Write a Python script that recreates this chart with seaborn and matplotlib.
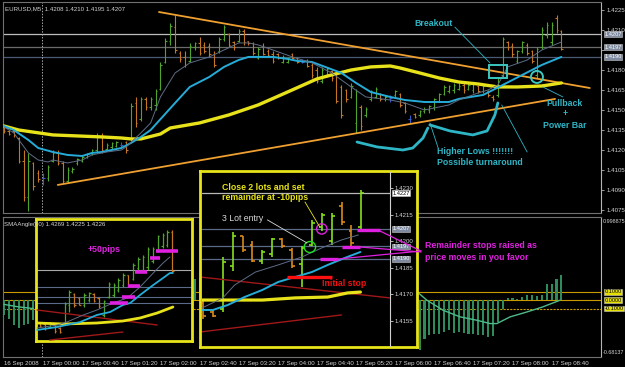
import numpy as np
import matplotlib
matplotlib.use("Agg")
import matplotlib.pyplot as plt
import matplotlib.transforms as mtransforms
from matplotlib.patches import Rectangle, Ellipse
from matplotlib.lines import Line2D
import seaborn as sns

# ---------------- main chart data (EURUSD M5) ----------------
bar_index = list(range(115))
bar_open = [1.4136,1.4134,1.4134,1.4129,1.4112,1.4085,1.4110,1.4103,1.4099,1.4099,
            1.4112,1.4118,1.4110,1.4097,1.4104,1.4110,1.4112,1.4115,1.4117,1.4120,
            1.4130,1.4121,1.4122,1.4123,1.4124,1.4126,1.4128,1.4155,1.4143,1.4158,
            1.4152,1.4154,1.4166,1.4186,1.4202,1.4212,1.4193,1.4190,1.4187,1.4197,
            1.4200,1.4199,1.4198,1.4192,1.4194,1.4203,1.4207,1.4201,1.4202,1.4209,
            1.4202,1.4200,1.4189,1.4198,1.4194,1.4192,1.4192,1.4186,1.4186,1.4192,
            1.4189,1.4186,1.4187,1.4184,1.4180,1.4172,1.4176,1.4179,1.4176,1.4167,
            1.4165,1.4160,1.4140,1.4152,1.4146,1.4158,1.4160,1.4162,1.4158,1.4159,
            1.4161,1.4162,1.4155,1.4143,1.4147,1.4146,1.4149,1.4150,1.4152,1.4157,
            1.4162,1.4164,1.4165,1.4166,1.4169,1.4166,1.4165,1.4168,1.4164,1.4164,
            1.4160,1.4161,1.4176,1.4201,1.4198,1.4187,1.4194,1.4199,1.4194,1.4176,
            1.4197,1.4206,1.4201,1.4219,1.4209]
bar_high = [1.4137,1.4135,1.4135,1.4130,1.4120,1.4118,1.4111,1.4105,1.4103,1.4109,
            1.4120,1.4120,1.4112,1.4107,1.4107,1.4114,1.4116,1.4118,1.4121,1.4133,
            1.4133,1.4125,1.4126,1.4127,1.4126,1.4127,1.4155,1.4160,1.4160,1.4160,
            1.4160,1.4166,1.4186,1.4204,1.4215,1.4221,1.4194,1.4194,1.4200,1.4201,
            1.4205,1.4201,1.4200,1.4194,1.4205,1.4214,1.4208,1.4202,1.4211,1.4211,
            1.4202,1.4201,1.4197,1.4200,1.4196,1.4194,1.4193,1.4191,1.4190,1.4193,
            1.4190,1.4188,1.4188,1.4185,1.4182,1.4182,1.4182,1.4180,1.4178,1.4169,
            1.4166,1.4170,1.4166,1.4154,1.4152,1.4165,1.4167,1.4163,1.4161,1.4161,
            1.4165,1.4163,1.4156,1.4146,1.4148,1.4150,1.4152,1.4154,1.4159,1.4163,
            1.4169,1.4169,1.4170,1.4170,1.4170,1.4170,1.4171,1.4169,1.4169,1.4165,
            1.4161,1.4175,1.4205,1.4202,1.4200,1.4195,1.4202,1.4200,1.4195,1.4197,
            1.4212,1.4216,1.4216,1.4221,1.4210]
bar_low = [1.4133,1.4131,1.4130,1.4110,1.4082,1.4074,1.4090,1.4096,1.4094,1.4097,
           1.4111,1.4109,1.4095,1.4095,1.4103,1.4109,1.4111,1.4114,1.4116,1.4118,
           1.4118,1.4120,1.4121,1.4122,1.4122,1.4118,1.4127,1.4137,1.4142,1.4150,
           1.4150,1.4150,1.4165,1.4185,1.4199,1.4193,1.4186,1.4182,1.4186,1.4195,
           1.4191,1.4193,1.4190,1.4182,1.4193,1.4202,1.4197,1.4195,1.4201,1.4199,
           1.4199,1.4191,1.4188,1.4191,1.4190,1.4185,1.4188,1.4185,1.4185,1.4188,
           1.4185,1.4185,1.4182,1.4174,1.4170,1.4170,1.4175,1.4172,1.4155,1.4144,
           1.4156,1.4159,1.4133,1.4135,1.4145,1.4157,1.4159,1.4157,1.4157,1.4156,
           1.4160,1.4152,1.4148,1.4140,1.4144,1.4145,1.4148,1.4148,1.4150,1.4156,
           1.4161,1.4163,1.4163,1.4165,1.4163,1.4165,1.4163,1.4163,1.4163,1.4160,
           1.4157,1.4160,1.4175,1.4195,1.4190,1.4185,1.4193,1.4191,1.4185,1.4174,
           1.4196,1.4204,1.4199,1.4208,1.4195]
bar_close = [1.4134,1.4132,1.4131,1.4112,1.4085,1.4112,1.4093,1.4098,1.4099,1.4107,
             1.4118,1.4110,1.4097,1.4105,1.4106,1.4113,1.4115,1.4117,1.4120,1.4130,
             1.4120,1.4124,1.4125,1.4126,1.4124,1.4120,1.4153,1.4140,1.4158,1.4152,
             1.4158,1.4164,1.4184,1.4202,1.4213,1.4195,1.4188,1.4184,1.4198,1.4200,
             1.4193,1.4194,1.4192,1.4184,1.4203,1.4212,1.4199,1.4197,1.4209,1.4201,
             1.4200,1.4193,1.4196,1.4192,1.4191,1.4187,1.4189,1.4190,1.4189,1.4189,
             1.4186,1.4186,1.4183,1.4176,1.4172,1.4180,1.4181,1.4174,1.4157,1.4146,
             1.4158,1.4168,1.4164,1.4138,1.4151,1.4164,1.4166,1.4158,1.4160,1.4159,
             1.4164,1.4154,1.4149,1.4143,1.4145,1.4149,1.4151,1.4153,1.4158,1.4162,
             1.4167,1.4168,1.4169,1.4168,1.4165,1.4169,1.4170,1.4164,1.4168,1.4161,
             1.4158,1.4174,1.4203,1.4197,1.4192,1.4194,1.4201,1.4193,1.4187,1.4196,
             1.4210,1.4214,1.4214,1.4210,1.4196]

ma_fast_x = [0,2,5,7,9,10,13,16,18,21,24,25,28,30,32,35,38,42,45,48,50,52,55,59,63,67,71,74,79,82,
             86,88,91,93,97,99,101,103,107,110,114]
ma_fast_y = [1.41373,1.41328,1.41178,1.41125,1.41110,1.41125,1.41103,1.41125,1.41163,1.41185,
             1.41200,1.41223,1.41328,1.41403,1.41598,1.41778,1.41853,1.41898,1.41950,1.42003,
             1.42003,1.41988,1.41950,1.41898,1.41853,1.41778,1.41673,1.41598,1.41575,1.41553,
             1.41500,1.41515,1.41538,1.41575,1.41628,1.41650,1.41688,1.41823,1.41875,1.41950,1.42010]
ma_mid_x = [0,2,5,7,10,13,16,18,20,22,24,26,28,30,35,38,42,45,48,50,55,58,60,63,69,72,75,79,82,86,
            91,93,98,100,106,110,114]
ma_mid_y = [1.41380,1.41350,1.41275,1.41215,1.41185,1.41163,1.41155,1.41178,1.41185,1.41200,
            1.41215,1.41253,1.41298,1.41350,1.41553,1.41673,1.41748,1.41823,1.41875,1.41898,
            1.41898,1.41883,1.41868,1.41860,1.41778,1.41703,1.41635,1.41598,1.41575,1.41560,
            1.41560,1.41583,1.41613,1.41650,1.41763,1.41838,1.41898]
ma_slow_x = [0,3,10,20,24,26,28,32,34,40,46,52,58,64,67,71,75,79,81,85,89,93,97,101,105,110,114]
ma_slow_y = [1.41380,1.41350,1.41313,1.41298,1.41290,1.41283,1.41283,1.41320,1.41365,1.41403,
             1.41463,1.41538,1.41635,1.41733,1.41763,1.41800,1.41823,1.41830,1.41815,1.41778,
             1.41740,1.41710,1.41695,1.41673,1.41673,1.41680,1.41703]
upper_tl_x = [31.7, 119.8]
upper_tl_y = [1.42235, 1.41665]
lower_tl_x = [11.0, 112.7]
lower_tl_y = [1.40938, 1.41583]
main_levels = [1.4207, 1.4197, 1.4190]
price_ticks = [1.4225, 1.4210, 1.4195, 1.4180, 1.4165, 1.4150, 1.4135, 1.4120, 1.4105, 1.4090, 1.4075]
hidden_tick = 1.4195   # its label sits under the 1.4197 price tag in the reference
time_tick_bars = [0, 8, 16, 24, 32, 40, 48, 56, 64, 72, 80, 88, 96, 104, 112]
time_labels = ["16 Sep 2008", "17 Sep 00:00", "17 Sep 00:40", "17 Sep 01:20", "17 Sep 02:00",
               "17 Sep 02:40", "17 Sep 03:20", "17 Sep 04:00", "17 Sep 04:40", "17 Sep 05:20",
               "17 Sep 06:00", "17 Sep 06:40", "17 Sep 07:20", "17 Sep 08:00", "17 Sep 08:40"]
day_start_bar = 7.8

# higher-lows sketch (bar index, price)
hl1_x = [72.2, 76.3, 81.6, 83.6, 85.7, 86.7]
hl1_y = [1.41260, 1.41223, 1.41200, 1.41215, 1.41290, 1.41365]
hl2_x = [87.1, 91.2, 95.9, 98.8, 100.4, 101.0]
hl2_y = [1.41388, 1.41343, 1.41313, 1.41343, 1.41463, 1.41553]

# ---------------- SMAAngle indicator ----------------
hist_x = [0,1,2,3,4,5,6,39,40,85,86,87,88,89,90,91,92,93,94,95,96,97,98,99,100,101,102,103,104,105,
          106,107,108,109,110,111,112,113,114]
hist_v = [-0.18,-0.22,-0.30,-0.33,-0.30,-0.28,-0.24,0.25,0.27,-0.60,-0.46,-0.42,-0.40,-0.40,-0.38,
          -0.36,-0.39,-0.38,-0.39,-0.41,-0.40,-0.42,-0.42,-0.44,-0.43,-0.26,-0.10,0.03,0.03,0.02,
          0.04,0.06,0.06,0.05,0.06,0.19,0.20,0.26,0.30]
sig_left_x = [0, 3, 6]
sig_left_v = [-0.05, -0.08, -0.10]
sig_x = [84.5, 86.5, 89.8, 93.3, 96.7, 99.4, 100.8, 103.5, 107.0, 110.2, 113.7]
sig_v = [0.10, 0.00, -0.12, -0.20, -0.24, -0.28, -0.28, -0.20, -0.14, -0.08, 0.00]
ind_levels = [0.1, 0.0, -0.1]
ind_level_labels = ["0.1000", "0.0000", "-0.1000"]
ind_max, ind_min = 0.998875, -0.68137

# ---------------- left inset (+50pips) ----------------
left_open = [1.4169,1.4168,1.4164,1.4166,1.4163,1.4168,1.4188,1.4201,1.4196,1.4188,
             1.4194,1.4201,1.4196,1.4177,1.4197,1.4199,1.4205,1.4210,1.4221,1.4217,
             1.4229,1.4227,1.4230,1.4237,1.4249,1.4253,1.4254,1.4269]
left_high = [1.4170,1.4169,1.4170,1.4167,1.4164,1.4192,1.4205,1.4202,1.4197,1.4202,
             1.4203,1.4202,1.4197,1.4194,1.4214,1.4213,1.4218,1.4224,1.4222,1.4235,
             1.4241,1.4243,1.4252,1.4252,1.4266,1.4268,1.4271,1.4271]
left_low = [1.4164,1.4161,1.4163,1.4158,1.4158,1.4167,1.4181,1.4186,1.4188,1.4186,
            1.4192,1.4192,1.4185,1.4175,1.4196,1.4197,1.4203,1.4208,1.4208,1.4216,
            1.4227,1.4225,1.4227,1.4235,1.4247,1.4251,1.4252,1.4225]
left_close = [1.4165,1.4163,1.4169,1.4160,1.4159,1.4190,1.4203,1.4188,1.4189,1.4200,
              1.4202,1.4193,1.4187,1.4193,1.4212,1.4211,1.4216,1.4222,1.4210,1.4233,
              1.4239,1.4241,1.4250,1.4250,1.4264,1.4266,1.4269,1.4226]
left_mid_x = [-0.6,3.5,8.2,11.6,14.3,16.9,18.4,20.4,23.1,25.1,26.5,27.1]
left_mid_y = [1.41610,1.41643,1.41698,1.41775,1.41808,1.41885,1.41907,1.41995,1.42105,1.42182,1.42237,1.42237]
left_fast_x = [-0.6,3.5,5.5,8.8,11.6,14.9,17.8,20.4,23.1,25.1,26.5]
left_fast_y = [1.41632,1.41665,1.41698,1.41775,1.41830,1.41907,1.41962,1.42083,1.42237,1.42347,1.42413]
left_slow_x = [-0.6,4.7,11.6,16.9,20.4,23.9,27.1]
left_slow_y = [1.41687,1.41676,1.41687,1.41709,1.41742,1.41797,1.41863]
left_red1_x, left_red1_y = [-0.6, 23.9], [1.41830, 1.41665]
left_red2_x, left_red2_y = [2.0, 16.9], [1.41500, 1.41588]
left_stop_x0 = [14.3, 16.7, 18.0, 19.4, 22.4, 23.7]
left_stop_x1 = [18.0, 19.4, 20.4, 21.8, 24.5, 28.2]
left_stop_y = [1.41907, 1.41973, 1.42094, 1.42248, 1.42402, 1.42479]
left_levels = [1.4227, 1.4208, 1.4197, 1.4191]

# ---------------- middle inset (entry / exits) ----------------
mid_open = [1.4165,1.4160,1.4162,1.4186,1.4203,1.4198,1.4189,1.4193,1.4201,1.4195,1.4187,1.4198,1.4208,1.4200,1.4220,1.4206,1.4208]
mid_high = [1.4167,1.4161,1.4191,1.4205,1.4203,1.4200,1.4195,1.4202,1.4202,1.4196,1.4197,1.4212,1.4216,1.4216,1.4222,1.4209,1.4229]
mid_low = [1.4156,1.4157,1.4160,1.4183,1.4194,1.4188,1.4187,1.4191,1.4196,1.4185,1.4174,1.4197,1.4206,1.4198,1.4209,1.4197,1.4206]
mid_close = [1.4158,1.4158,1.4188,1.4203,1.4195,1.4189,1.4194,1.4201,1.4197,1.4186,1.4196,1.4210,1.4215,1.4214,1.4211,1.4199,1.4227]
mid_fast_x = [-0.1,2.0,3.2,5.3,7.6,10.0,12.0,14.0,15.7]
mid_fast_y = [1.41623,1.41680,1.41753,1.41826,1.41866,1.41911,1.41962,1.42007,1.42035]
mid_mid_x = [-0.1,1.0,2.5,4.2,6.0,7.6,9.3,11.0,12.6,14.3,15.9]
mid_mid_y = [1.41612,1.41612,1.41640,1.41685,1.41725,1.41770,1.41798,1.41826,1.41866,1.41905,1.41939]
mid_slow_x = [-0.3,2.5,6.0,9.3,12.6,14.6,15.9]
mid_slow_y = [1.41668,1.41668,1.41668,1.41680,1.41685,1.41708,1.41713]
mid_red1_x, mid_red1_y = [-0.3, 18.9], [1.41798, 1.41680]
mid_red2_x, mid_red2_y = [-0.3, 14.0], [1.41488, 1.41584]
mid_ticks = [1.4230, 1.4215, 1.4200, 1.4185, 1.4170, 1.4155]
mid_levels = [1.4227, 1.4207, 1.4197, 1.4190]
initial_stop_x, initial_stop_y = [8.5, 13.0], 1.41798
mid_stop_x0 = [11.8, 14.0, 15.6]
mid_stop_x1 = [13.6, 15.9, 17.9]
mid_stop_y = [1.41900, 1.41967, 1.42063]
entry_bar, entry_price = 10.8, 1.41967
close2_bar, close2_price = 12.0, 1.42069

# ---------------- style ----------------
sns.set_style("dark")
plt.rcParams['font.family'] = ['Liberation Sans', 'DejaVu Sans']
W, H = 625, 367
fig = plt.figure(figsize=(6.25, 3.67), dpi=100, facecolor='black')

UP, DN, DOJI = '#4fa52b', '#c47622', '#3558c8'
UP2, DN2 = '#86e01e', '#d98a1e'
CYAN_MA, THIN_MA, YEL_MA = '#25acd8', '#5d6d86', '#e8e21a'
ANN = '#2fb6c6'
MAG = '#e020e0'
TXT = '#d4d4d4'
FS = 4.4


def box(x0, y0, x1, y1):
    return [x0 / W, 1 - y1 / H, (x1 - x0) / W, (y1 - y0) / H]


def prep(a, spine_color='#707070'):
    a.set_facecolor('black')
    a.grid(False)
    for s in a.spines.values():
        s.set_color(spine_color)
        s.set_linewidth(0.8)


def line(a, xs, ys, color, lw, z=3, **kw):
    sns.lineplot(x=xs, y=ys, ax=a, color=color, lw=lw, estimator=None, sort=False,
                 legend=False, zorder=z, **kw)


def ohlc(a, x, o, h, l, c, up, dn, lw, tick):
    x = np.asarray(x, float); o = np.asarray(o); h = np.asarray(h)
    l = np.asarray(l); c = np.asarray(c)
    cols = np.where(c > o, up, np.where(c < o, dn, DOJI))
    a.vlines(x, l, h, colors=cols, lw=lw, zorder=2)
    a.hlines(o, x - tick, x, colors=cols, lw=lw, zorder=2)
    a.hlines(c, x, x + tick, colors=cols, lw=lw, zorder=2)


def tag(a, y, s, fc, tc, dx=0.006, fs=FS):
    tr = mtransforms.blended_transform_factory(a.transAxes, a.transData)
    a.text(1 + dx, y, s, transform=tr, fontsize=fs, color=tc, va='center', ha='left',
           bbox=dict(boxstyle='square,pad=0.06', fc=fc, ec='#c8c8c8', lw=0.4),
           clip_on=False, zorder=12)


def fig_line(pts, color, lw, z=30):
    fig.add_artist(Line2D([p[0] / W for p in pts], [1 - p[1] / H for p in pts],
                          transform=fig.transFigure, color=color, lw=lw, zorder=z,
                          solid_capstyle='round'))


# ================= main price panel =================
ax = fig.add_axes(box(3, 2, 601, 213))
prep(ax)
ax.spines['right'].set_color('#b4b4b4')
for lv, col in zip(main_levels, ['#bdbdbd', '#6a6a6a', '#4a5a72']):
    ax.axhline(lv, color=col, lw=0.9, zorder=1)
ax.axvline(day_start_bar, color='#a8a8a8', lw=0.7, ls=(0, (1.5, 1.5)), zorder=1)
ohlc(ax, bar_index, bar_open, bar_high, bar_low, bar_close, UP, DN, 0.8, 0.3)
line(ax, upper_tl_x, upper_tl_y, '#f0a030', 1.3, z=4)
line(ax, lower_tl_x, lower_tl_y, '#f0a030', 1.3, z=4)
line(ax, ma_slow_x, ma_slow_y, YEL_MA, 2.4, z=5)
line(ax, ma_mid_x, ma_mid_y, CYAN_MA, 1.4, z=5)
line(ax, ma_fast_x, ma_fast_y, THIN_MA, 0.7, z=5)
ax.set_xlim(-0.2, 122.1)
ax.set_ylim(1.407275, 1.42310)
ax.set_xticks([])
ax.yaxis.tick_right()
ax.set_yticks(price_ticks)
ax.set_yticklabels(["" if v == hidden_tick else f"{v:.4f}" for v in price_ticks])
ax.tick_params(axis='y', length=2, width=0.6, color='#b4b4b4', labelcolor=TXT, labelsize=FS, pad=2)
ax.set_xlabel(''); ax.set_ylabel('')
tag(ax, 1.4207, "1.4207", '#7d8aa0', 'white', fs=4.1)
tag(ax, 1.4197, "1.4197", '#7d8aa0', 'white', fs=4.1)
tag(ax, 1.4190, "1.4190", '#7d8aa0', 'white', fs=4.1)
ax.text(0.004, 0.97, "EURUSD,M5  1.4208 1.4210 1.4195 1.4207", transform=ax.transAxes,
        fontsize=FS, color=TXT, va='center', ha='left')

# main annotations
bold = dict(fontsize=6.3, fontweight='bold')
ax.text(84.0, 1.42145, "Breakout", color=ANN, va='center', ha='left', **bold, zorder=8)
line(ax, [92.2, 99.4], [1.42122, 1.41853], ANN, 0.6, z=8)
ax.add_patch(Rectangle((99.2, 1.41740), 3.7, 0.00098, fill=False, ec='#3cc8c0', lw=1.4, zorder=8))
ax.add_patch(Ellipse((109.0, 1.41748), 2.45, 0.0009, fill=False, ec='#3cc8c0', lw=1.4, zorder=8))
line(ax, [110.2, 114.3], [1.41673, 1.41598], ANN, 0.6, z=8)
ax.text(114.7, 1.41550, "Pullback", color=ANN, va='center', ha='center', **bold, zorder=8)
ax.text(114.7, 1.41475, "+", color=ANN, va='center', ha='center', **bold, zorder=8)
ax.text(114.7, 1.41385, "Power Bar", color=ANN, va='center', ha='center', **bold, zorder=8)
ax.text(88.5, 1.41185, "Higher Lows !!!!!!!", color=ANN, va='center', ha='left', **bold, zorder=8)
ax.text(88.5, 1.41103, "Possible turnaround", color=ANN, va='center', ha='left', **bold, zorder=8)
line(ax, hl1_x, hl1_y, '#2fb6c6', 2.0, z=7)
line(ax, hl2_x, hl2_y, '#2fb6c6', 2.0, z=7)
line(ax, [87.1, 88.8], [1.41403, 1.41215], ANN, 0.6, z=8)
line(ax, [101.8, 107.0], [1.41538, 1.41185], ANN, 0.6, z=8)

# ================= indicator panel =================
axb = fig.add_axes(box(3, 217, 601, 357))
prep(axb)
axb.spines['right'].set_color('#b4b4b4')
axb.axvline(day_start_bar, color='#a8a8a8', lw=0.7, ls=(0, (1.5, 1.5)), zorder=1)
for lv, ls in zip(ind_levels, ['-', '-', (0, (2, 1))]):
    axb.axhline(lv, color='#c89a00', lw=0.8, ls=ls, zorder=1)
axb.bar(hist_x, hist_v, width=0.42, color='#2e8c5c', edgecolor='none', linewidth=0, zorder=2)
line(axb, sig_left_x, sig_left_v, '#4dbb8a', 1.0, z=3)
line(axb, sig_x, sig_v, '#4dbb8a', 1.0, z=3)
axb.set_xlim(-0.2, 122.1)
axb.set_ylim(ind_min, ind_max)
axb.set_yticks([])
axb.set_xticks(time_tick_bars)
axb.set_xticklabels(time_labels)
for lbl in axb.get_xticklabels():
    lbl.set_ha('left')
axb.tick_params(axis='x', length=2, width=0.6, color='#b4b4b4', labelcolor=TXT, labelsize=FS, pad=1.2)
axb.set_xlabel(''); axb.set_ylabel('')
for lv, s in zip(ind_levels, ind_level_labels):
    tag(axb, lv, s, '#e6e000', 'black', fs=4.1)
axb.text(1.003, 0.965, f"{ind_max:.6f}", transform=axb.transAxes, fontsize=3.9, color=TXT,
         va='center', ha='left')
axb.text(1.003, 0.035, f"{ind_min:.5f}", transform=axb.transAxes, fontsize=3.9, color=TXT,
         va='center', ha='left')

# ================= left inset =================
axl = fig.add_axes(box(36, 219, 192, 341))
prep(axl, '#e8e41a')
for s in axl.spines.values():
    s.set_linewidth(2.0)
for lv, col in zip(left_levels, ['#a8a8a8', '#5a6a88', '#5a6a88', '#5a6a88']):
    axl.axhline(lv, color=col, lw=0.8, zorder=1)
left_x = list(range(len(left_open)))
ohlc(axl, left_x, left_open, left_high, left_low, left_close, UP, DN, 0.9, 0.3)
line(axl, left_red1_x, left_red1_y, '#a01818', 1.0, z=3)
line(axl, left_red2_x, left_red2_y, '#a01818', 1.0, z=3)
line(axl, left_slow_x, left_slow_y, YEL_MA, 2.0, z=4)
line(axl, left_mid_x, left_mid_y, CYAN_MA, 1.3, z=4)
line(axl, left_fast_x, left_fast_y, THIN_MA, 0.7, z=4)
axl.hlines(left_stop_y, left_stop_x0, left_stop_x1, colors=MAG, lw=2.6, zorder=6)
axl.text(9.8, 1.4249, "+50pips", color=MAG, va='center', ha='left', zorder=8, **bold)
axl.set_xlim(-0.82, 31.0)
axl.set_ylim(1.41489, 1.42831)
axl.set_xticks([]); axl.set_yticks([])
axl.set_xlabel(''); axl.set_ylabel('')

# ================= middle inset =================
axf = fig.add_axes(box(200, 171, 417, 347))
prep(axf, '#e8e41a')
for s in axf.spines.values():
    s.set_linewidth(2.0)
axf.set_xticks([]); axf.set_yticks([])

axm = fig.add_axes(box(202, 172, 390, 346))
axm.set_facecolor('none')
axm.grid(False)
for k, s in axm.spines.items():
    s.set_visible(k == 'right')
axm.spines['right'].set_color('#d0d0d0')
axm.spines['right'].set_linewidth(0.8)
for lv, col in zip(mid_levels, ['#b8b8b8', '#5a6a88', '#5a6a88', '#5a6a88']):
    axm.axhline(lv, color=col, lw=0.9, zorder=1)
mid_x = list(range(len(mid_open)))
ohlc(axm, mid_x, mid_open, mid_high, mid_low, mid_close, UP2, DN2, 1.2, 0.3)
line(axm, mid_red1_x, mid_red1_y, '#a01818', 1.0, z=3)
line(axm, mid_red2_x, mid_red2_y, '#a01818', 1.0, z=3)
line(axm, mid_slow_x, mid_slow_y, YEL_MA, 2.3, z=4)
line(axm, mid_mid_x, mid_mid_y, CYAN_MA, 1.4, z=4)
line(axm, mid_fast_x, mid_fast_y, THIN_MA, 0.7, z=4)
axm.hlines([initial_stop_y], [initial_stop_x[0]], [initial_stop_x[1]], colors='#ff1010', lw=2.4, zorder=6)
axm.hlines(mid_stop_y, mid_stop_x0, mid_stop_x1, colors=MAG, lw=2.4, zorder=6)
axm.add_patch(Ellipse((entry_bar, entry_price), 1.15, 0.00062, fill=False, ec='#22e022', lw=1.0, zorder=7))
axm.add_patch(Ellipse((close2_bar, close2_price), 1.05, 0.00058, fill=False, ec=MAG, lw=1.0, zorder=7))
axm.text(1.9, 1.42300, "Close 2 lots and set", color='#e8e41a', va='center', ha='left', zorder=8, **bold)
axm.text(1.9, 1.42244, "remainder at -10pips", color='#e8e41a', va='center', ha='left', zorder=8, **bold)
line(axm, [10.3, 11.8], [1.42221, 1.42080], '#e8e41a', 0.6, z=8)
axm.text(1.9, 1.42125, "3 Lot entry", color='#d8d8d8', va='center', ha='left', zorder=8,
         fontsize=6.3)
line(axm, [6.5, 10.5], [1.42120, 1.41990], '#d8d8d8', 0.6, z=8)
axm.text(12.0, 1.41759, "Initial stop", color='#f01010', va='center', ha='left', zorder=8, **bold)
axm.set_xlim(-0.1, 18.89)
axm.set_ylim(1.414089, 1.42390)
axm.set_xticks([])
axm.yaxis.tick_right()
axm.set_yticks(mid_ticks)
axm.set_yticklabels([f"{v:.4f}" for v in mid_ticks])
axm.tick_params(axis='y', length=2, width=0.6, color='#d0d0d0', labelcolor=TXT, labelsize=FS, pad=1.5)
axm.set_xlabel(''); axm.set_ylabel('')
tag(axm, 1.4227, "1.4227", 'white', 'black', dx=0.012, fs=4.1)
tag(axm, 1.4207, "1.4207", '#7d8aa0', 'white', dx=0.012, fs=4.1)
tag(axm, 1.4197, "1.4197", '#7d8aa0', 'white', dx=0.012, fs=4.1)
tag(axm, 1.4190, "1.4190", '#7d8aa0', 'white', dx=0.012, fs=4.1)

# connectors from raised stops to the note
fig_line([(380, 231), (421, 251)], MAG, 0.9)
fig_line([(360, 247), (421, 252)], MAG, 0.9)
fig_line([(338, 259), (421, 251)], MAG, 0.9)
fig.text(425 / W, 1 - 245 / H, "Remainder stops raised as", color=MAG, va='center', ha='left',
         zorder=30, **bold)
fig.text(425 / W, 1 - 257 / H, "price moves in you favor", color=MAG, va='center', ha='left',
         zorder=30, **bold)
fig.text(4 / W, 1 - 225 / H, "SMAAngle(60) 1.4269 1.4225 1.4226", color=TXT, fontsize=FS,
         va='center', ha='left', zorder=30)

fig.savefig("out.png", dpi=100, facecolor='black')
